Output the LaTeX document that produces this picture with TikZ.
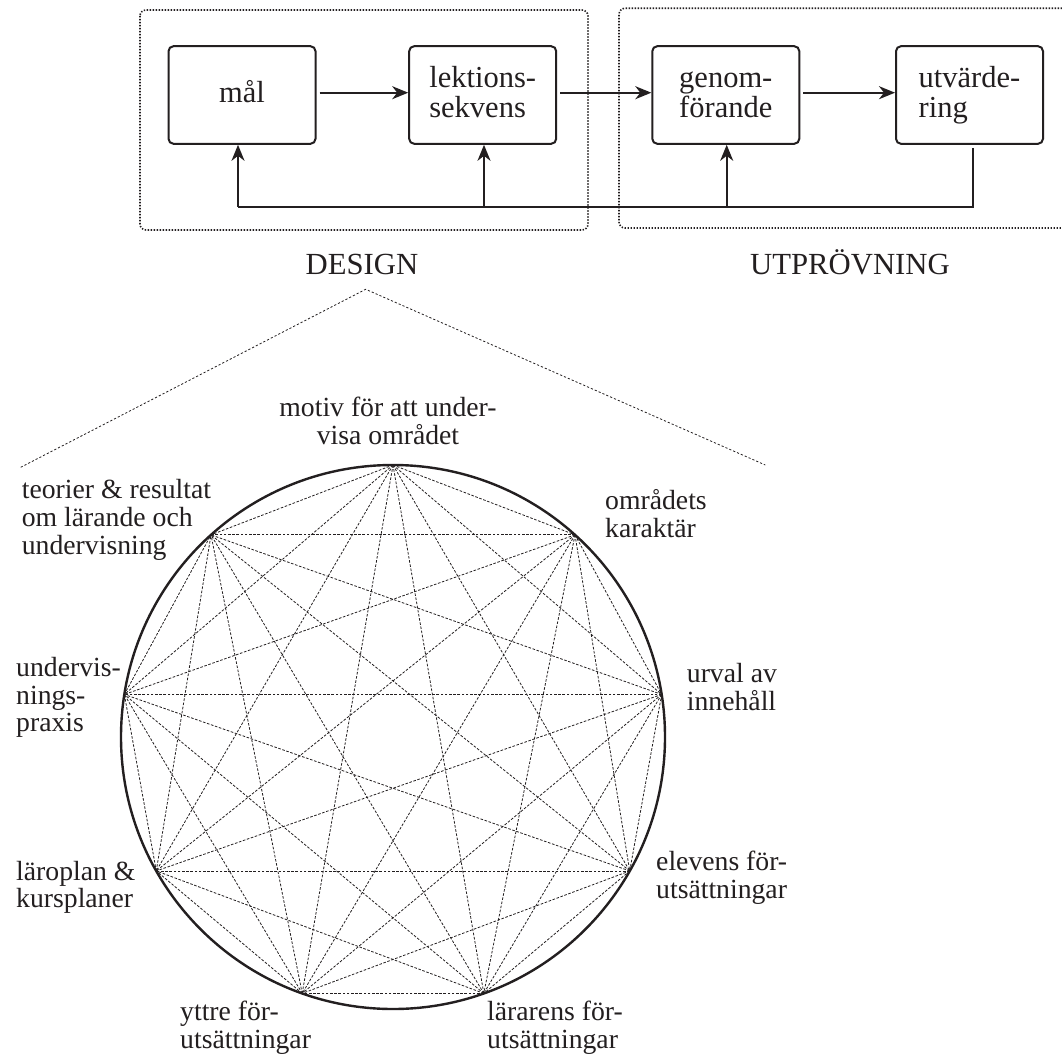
\documentclass[tikz,border=0pt]{standalone}
\usepackage{fontspec}
\setmainfont{Liberation Serif}
\usetikzlibrary{arrows.meta,calc}
\definecolor{ink}{HTML}{231F20}
\begin{document}
\begin{tikzpicture}[x=1pt,y=-1pt, color=ink,
  box/.style={draw, line width=2pt, rounded corners=5pt, minimum width=147pt,
    minimum height=97.6pt, align=left, inner sep=0pt,
    font=\fontsize{30.5}{30.5}\selectfont, text height=51.9pt, text depth=6pt},
  conn/.style={line width=1.9pt},
  arr/.style={conn, -{Stealth[length=16pt,width=13pt,inset=5pt]}},
  frame/.style={line width=1.6pt, dash pattern=on 1.4pt off 1.6pt, rounded corners=6pt},
  chord/.style={line width=0.8pt, dash pattern=on 2.6pt off 1.6pt},
  fan/.style={line width=0.8pt, dash pattern=on 2.2pt off 2pt},
  lbl/.style={align=left, inner sep=0pt, anchor=base west, font=\fontsize{27.7}{27.7}\selectfont},
  head/.style={inner sep=0pt, anchor=base, font=\fontsize{30.7}{30.7}\selectfont}]
\path[fill=white, use as bounding box] (0,0) rectangle (1062,1059);

% frames
\draw[frame] (140,10) rectangle (588,230);
\draw[frame] (1062,8.3) -- (619,8.3) -- (619,228) -- (1062,228);

% boxes
\node[box, text height=21.4pt] (mal) at (242,95) {mål};
\node[box] (lek) at (482.7,95) {lektions-\\sekvens};
\node[box] (gen) at (725.8,95) {genom-\\förande};
\node[box] (utv) at (969.5,95) {utvärde-\\ring};

\draw[arr, shorten <=3pt] (mal.east |- 0,92.7) -- (lek.west |- 0,92.7);
\draw[arr, shorten <=3pt] (lek.east |- 0,92.7) -- (gen.west |- 0,92.7);
\draw[arr, shorten <=3pt] (gen.east |- 0,92.7) -- (utv.west |- 0,92.7);

% feedback loop
\coordinate (fb) at (0,207);
\draw[conn, shorten <=3pt] ([xshift=3.5pt]utv.south) -- ([xshift=3.5pt]utv.south |- fb) -- ([xshift=-4pt]mal.south |- fb);
\draw[arr] ([xshift=-4pt]mal.south |- fb) -- ([xshift=-4pt]mal.south);
\draw[arr] ([xshift=1.3pt]lek.south |- fb) -- ([xshift=1.3pt]lek.south);
\draw[arr] ([xshift=0.9pt]gen.south |- fb) -- ([xshift=0.9pt]gen.south);

% headings
\node[head] (design) at (362,274) {DESIGN};
\node[head] (utpr) at (850,274) {UTPRÖVNING};

% fan lines
\coordinate (apex) at (365.7,289.3);
\coordinate (fanL) at (20.7,467.3);
\coordinate (fanR) at (765.3,465);
\draw[fan] (fanL) -- (apex) -- (fanR);

% circle and points
\node[circle, draw, line width=2.4pt, minimum size=544pt, inner sep=0pt, outer sep=0pt] (C) at (393,737) {};
\foreach \a [count=\n from 0] in {90,48,9,-29.5,-70.5,-109.5,-150.5,171,132}
  \coordinate (p\n) at ($(C.center)+(\a:272pt)$);
\foreach \i [evaluate=\i as \k using int(\i+1)] in {0,...,7}
  \foreach \j in {\k,...,8}
    \draw[chord] (p\i) -- (p\j);

% labels (anchored at the baseline of the last line)
\node[lbl, align=center, anchor=base] (l0) at (388,444) {motiv för att under-\\visa området};
\node[lbl] (l1) at (605,537.3) {områdets\\karaktär};
\node[lbl] (l2) at (686.7,710) {urval av\\innehåll};
\node[lbl] (l3) at (656,898.3) {elevens för-\\utsättningar};
\node[lbl] (l4) at (487,1048.3) {lärarens för-\\utsättningar};
\node[lbl] (l5) at (180,1048.3) {yttre för-\\utsättningar};
\node[lbl] (l6) at (16,907.7) {läroplan \&\\kursplaner};
\node[lbl] (l7) at (16,731.7) {undervis-\\nings-\\praxis};
\node[lbl] (l8) at (21.7,554) {teorier \& resultat\\om lärande och\\undervisning};
\end{tikzpicture}
\end{document}
